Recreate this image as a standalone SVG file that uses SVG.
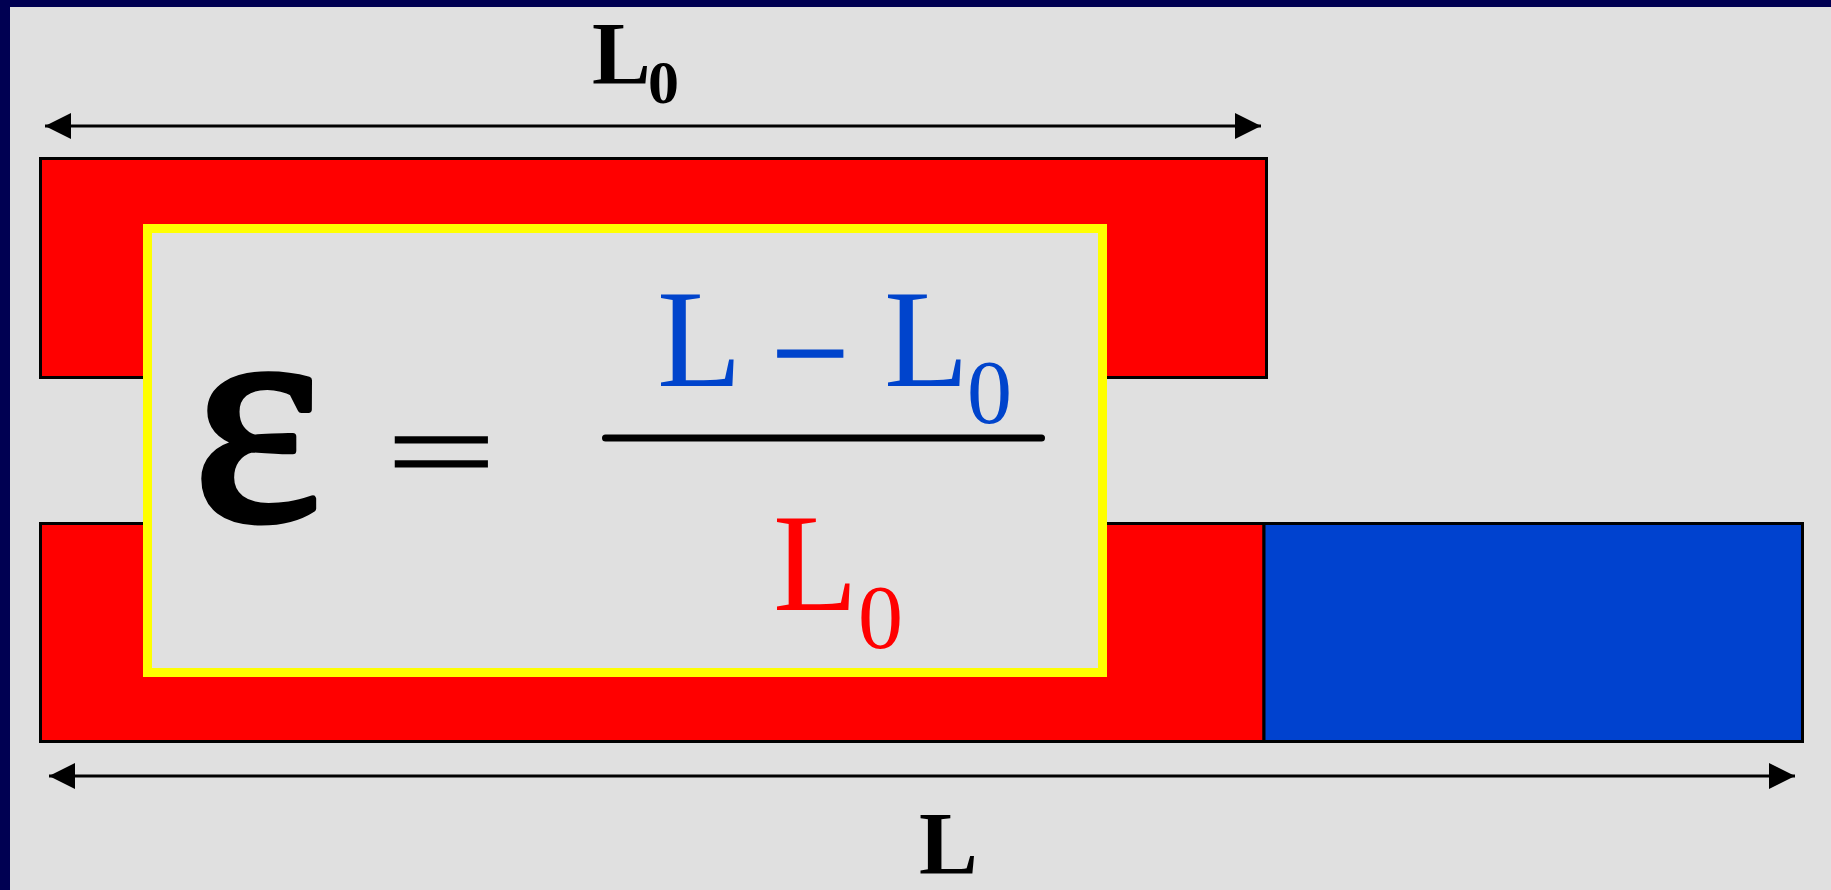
<svg xmlns="http://www.w3.org/2000/svg" width="1831" height="890" viewBox="0 0 1831 890">
  <style>
    .bar { stroke: #000000; stroke-width: 3; }
    .dim { stroke: #000000; stroke-width: 3; fill: none; }
    .lbl { font-family: "Liberation Serif", "Times New Roman", serif; font-weight: bold; fill: #000000; }
    .eq { font-family: "Liberation Serif", "Times New Roman", serif; }
  </style>
  <defs>
    <marker id="ah" viewBox="0 0 26 26" refX="26" refY="13" markerWidth="26" markerHeight="26" markerUnits="userSpaceOnUse" orient="auto-start-reverse">
      <path d="M0,0 L26,13 L0,26 Z" fill="#000000"/>
    </marker>
  </defs>
  <rect x="0" y="0" width="1831" height="890" fill="#E0E0E0"/>
  <rect x="0" y="0" width="1831" height="7" fill="#000052"/>
  <rect x="0" y="0" width="10" height="890" fill="#000052"/>

  <g id="top-bar">
    <rect class="bar" x="40.5" y="158.5" width="1226" height="219" fill="#FF0000"/>
  </g>
  <g id="bottom-bar-red">
    <rect class="bar" x="40.5" y="523.5" width="1223.5" height="218" fill="#FF0000"/>
  </g>
  <g id="bottom-bar-blue">
    <rect class="bar" x="1264" y="523.5" width="538.5" height="218" fill="#0042CF"/>
  </g>

  <g id="connectors">
    <line class="dim" x1="45" y1="126" x2="1261" y2="126" marker-start="url(#ah)" marker-end="url(#ah)"/>
    <line class="dim" x1="49" y1="776" x2="1795" y2="776" marker-start="url(#ah)" marker-end="url(#ah)"/>
  </g>

  <g id="label-L0">
    <text class="lbl" x="592" y="83" font-size="88">L</text>
    <text class="lbl" x="648" y="103" font-size="62" font-weight="normal">0</text>
  </g>
  <g id="label-L">
    <text class="lbl" x="919" y="873" font-size="88">L</text>
  </g>

  <g id="formula">
    <rect x="147.5" y="228.5" width="955" height="444" fill="#E0E0E0" stroke="#FFFF00" stroke-width="9"/>
    <text class="eq" x="193" y="519" font-size="306" fill="#000000" stroke="#000000" stroke-width="7" stroke-linejoin="round">ε</text>
    <text class="eq" transform="translate(386,492) scale(1,0.617)" x="0" y="0" font-size="196" fill="#000000" stroke="#000000" stroke-width="2">=</text>
    <line x1="605.5" y1="438" x2="1041.5" y2="438" stroke="#000000" stroke-width="7" stroke-linecap="round"/>
    <text class="eq" x="657" y="386" font-size="139" fill="#0044CC">L</text>
    <text class="eq" x="771" y="400" font-size="139" fill="#0044CC" stroke="#0044CC" stroke-width="1.5">−</text>
    <text class="eq" x="884" y="386" font-size="139" fill="#0044CC">L</text>
    <text class="eq" x="967" y="423" font-size="90" fill="#0044CC">0</text>
    <text class="eq" x="773" y="610" font-size="139" fill="#FF0000">L</text>
    <text class="eq" x="858" y="648" font-size="90" fill="#FF0000">0</text>
  </g>
</svg>
